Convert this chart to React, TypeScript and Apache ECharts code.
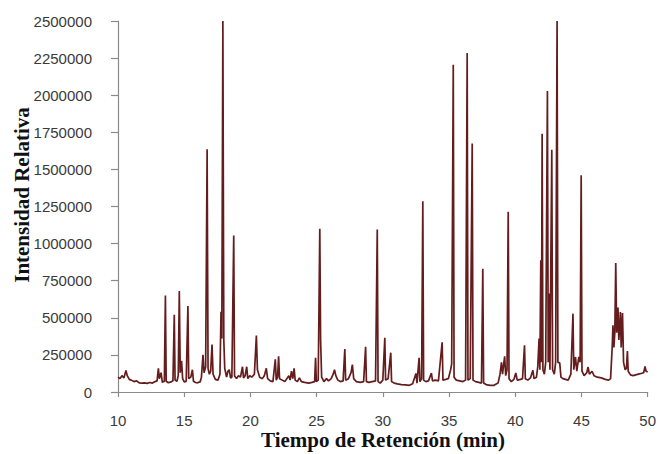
import React, { useEffect, useRef } from "react";
import * as echarts from "echarts";

// Retention time (min)
const retentionTime: number[] = [
  10.0, 10.15, 10.3, 10.45, 10.6, 10.7, 10.85, 11.0, 11.2, 11.4, 11.6, 11.8, 12.0, 12.2, 12.4, 12.6, 12.8, 12.95,
  13.05, 13.12, 13.25, 13.35, 13.5, 13.58, 13.64, 13.8, 14.0, 14.15, 14.25, 14.31, 14.45, 14.55, 14.63, 14.7,
  14.8, 14.88, 15.0, 15.15, 15.28, 15.34, 15.5, 15.62, 15.7, 15.85, 16.0, 16.2, 16.3, 16.42, 16.5, 16.62,
  16.73, 16.8, 16.9, 17.0, 17.1, 17.18, 17.35, 17.55, 17.7, 17.78, 17.84, 17.92, 17.99, 18.06, 18.2, 18.3,
  18.4, 18.5, 18.6, 18.74, 18.8, 18.95, 19.1, 19.25, 19.4, 19.48, 19.6, 19.72, 19.8, 19.95, 20.1, 20.3,
  20.45, 20.53, 20.7, 20.9, 21.05, 21.2, 21.3, 21.5, 21.7, 21.88, 21.95, 22.05, 22.13, 22.2, 22.4, 22.6,
  22.9, 23.0, 23.1, 23.2, 23.3, 23.38, 23.55, 23.7, 23.85, 24.1, 24.4, 24.65, 24.85, 24.92, 24.98, 25.12,
  25.24, 25.3, 25.38, 25.55, 25.75, 25.9, 26.1, 26.25, 26.35, 26.45, 26.6, 26.8, 27.0, 27.13, 27.19, 27.4,
  27.6, 27.7, 27.8, 28.0, 28.3, 28.55, 28.7, 28.76, 28.95, 29.2, 29.45, 29.58, 29.64, 29.8, 30.0, 30.15,
  30.21, 30.4, 30.6, 30.66, 30.85, 31.1, 31.4, 31.7, 32.0, 32.25, 32.5, 32.58, 32.74, 32.8, 32.93, 33.02,
  33.08, 33.25, 33.45, 33.67, 33.75, 33.95, 34.2, 34.48, 34.54, 34.75, 34.95, 35.12, 35.2, 35.32, 35.38, 35.55,
  35.8, 36.05, 36.25, 36.37, 36.43, 36.6, 36.75, 36.81, 37.0, 37.25, 37.45, 37.55, 37.61, 37.8, 38.1, 38.4,
  38.7, 38.85, 38.96, 39.04, 39.2, 39.28, 39.38, 39.47, 39.53, 39.7, 39.9, 40.04, 40.15, 40.4, 40.55, 40.7,
  40.76, 40.95, 41.15, 41.33, 41.42, 41.6, 41.7, 41.8, 41.86, 41.93, 41.98, 42.03, 42.09, 42.2, 42.3, 42.43,
  42.49, 42.55, 42.62, 42.76, 42.82, 42.95, 43.05, 43.16, 43.22, 43.36, 43.45, 43.6, 43.8, 44.0, 44.2, 44.36,
  44.42, 44.55, 44.65, 44.8, 44.9, 44.98, 45.04, 45.2, 45.4, 45.5, 45.6, 45.8, 45.95, 46.2, 46.5, 46.8,
  47.05, 47.2, 47.32, 47.38, 47.45, 47.52, 47.59, 47.66, 47.72, 47.76, 47.82, 47.9, 47.94, 48.0, 48.06, 48.1,
  48.18, 48.3, 48.4, 48.47, 48.53, 48.7, 48.9, 49.1, 49.3, 49.5, 49.7, 49.8, 49.88, 50.0,
];

// Relative intensity
const intensity: number[] = [
  100000, 90000, 110000, 95000, 145000, 110000, 85000, 80000, 70000, 75000, 62000, 60000, 62000, 58000, 64000, 60000, 70000, 75000,
  160000, 90000, 130000, 65000, 72000, 650000, 72000, 62000, 68000, 75000, 520000, 80000, 72000, 110000, 680000, 130000,
  210000, 90000, 68000, 72000, 580000, 90000, 100000, 150000, 72000, 64000, 62000, 68000, 100000, 250000, 130000, 170000,
  1635000, 160000, 120000, 140000, 320000, 120000, 85000, 80000, 120000, 540000, 360000, 2500000, 350000, 160000, 100000, 140000,
  150000, 95000, 100000, 1055000, 110000, 90000, 110000, 100000, 170000, 95000, 110000, 170000, 90000, 110000, 100000, 120000,
  380000, 150000, 100000, 90000, 110000, 160000, 90000, 75000, 70000, 220000, 80000, 100000, 240000, 90000, 80000, 70000,
  110000, 80000, 140000, 90000, 160000, 80000, 70000, 95000, 70000, 65000, 60000, 65000, 70000, 230000, 70000, 80000,
  1100000, 350000, 100000, 70000, 90000, 75000, 90000, 120000, 150000, 110000, 80000, 70000, 75000, 290000, 80000, 90000,
  130000, 185000, 90000, 70000, 65000, 70000, 305000, 70000, 65000, 70000, 75000, 1095000, 70000, 60000, 80000, 365000,
  80000, 90000, 265000, 70000, 60000, 55000, 50000, 48000, 45000, 55000, 125000, 60000, 230000, 70000, 90000, 1285000,
  80000, 70000, 75000, 128000, 75000, 80000, 75000, 335000, 80000, 85000, 90000, 150000, 190000, 2205000, 100000, 80000,
  75000, 70000, 80000, 2285000, 80000, 90000, 1675000, 80000, 70000, 65000, 60000, 830000, 60000, 50000, 45000, 45000,
  60000, 120000, 200000, 120000, 240000, 110000, 150000, 1215000, 90000, 70000, 85000, 128000, 80000, 85000, 90000, 315000,
  90000, 80000, 95000, 146000, 90000, 100000, 170000, 360000, 150000, 887000, 200000, 1740000, 150000, 120000, 200000, 2028000,
  200000, 663000, 150000, 1633000, 150000, 120000, 200000, 2500000, 200000, 196000, 100000, 90000, 85000, 80000, 120000, 528000,
  150000, 236000, 140000, 236000, 200000, 1460000, 140000, 110000, 130000, 168000, 120000, 140000, 110000, 100000, 95000, 85000,
  80000, 90000, 300000, 450000, 300000, 400000, 869000, 400000, 480000, 569000, 350000, 450000, 539000, 300000, 450000, 532000,
  200000, 150000, 160000, 276000, 140000, 115000, 110000, 115000, 120000, 125000, 130000, 173000, 140000, 135000,
];

const xTitle = "Tiempo de Retención (min)";
const yTitle = "Intensidad Relativa";

export default function App() {
  const ref = useRef<HTMLDivElement>(null);
  useEffect(() => {
    document.body.style.margin = "0";
    if (!ref.current) return;
    const chart = echarts.init(ref.current, null, { renderer: "svg" });
    const data = retentionTime.map((t, i) => [t, intensity[i]]);
    const axisColor = "#8a8a8a";
    const labelStyle = {
      color: "#3a3a3a",
      fontSize: 15,
      lineHeight: 15,
      fontFamily: "Liberation Sans, Arial, sans-serif",
    };
    chart.setOption({
      animation: false,
      backgroundColor: "#ffffff",
      grid: { left: 118, right: 11, top: 21, bottom: 62, containLabel: false },
      xAxis: {
        type: "value",
        min: 10,
        max: 50,
        interval: 5,
        axisLine: { show: true, onZero: false, lineStyle: { color: axisColor, width: 1.2 } },
        axisTick: { show: true, inside: false, length: 5, lineStyle: { color: axisColor, width: 1.2 } },
        axisLabel: { ...labelStyle, margin: 21, formatter: (v: number) => String(v) },
        splitLine: { show: false },
      },
      yAxis: {
        type: "value",
        min: 0,
        max: 2500000,
        interval: 250000,
        axisLine: { show: true, lineStyle: { color: axisColor, width: 1.2 } },
        axisTick: { show: true, inside: false, length: 7, lineStyle: { color: axisColor, width: 1.2 } },
        axisLabel: { ...labelStyle, margin: 26, formatter: (v: number) => String(v) },
        splitLine: { show: false },
      },
      series: [
        {
          type: "line",
          data,
          showSymbol: false,
          symbol: "none",
          lineStyle: { color: "#641c1c", width: 1.7 },
          itemStyle: { color: "#641c1c" },
        },
      ],
      graphic: [
        {
          type: "text",
          x: 383,
          y: 440,
          style: {
            text: xTitle,
            fill: "#111111",
            font: "bold 21px 'Liberation Serif', 'Times New Roman', serif",
            align: "center",
            verticalAlign: "middle",
          },
        },
        {
          type: "text",
          x: 22,
          y: 195,
          rotation: Math.PI / 2,
          style: {
            text: yTitle,
            fill: "#111111",
            font: "bold 21px 'Liberation Serif', 'Times New Roman', serif",
            align: "center",
            verticalAlign: "middle",
          },
        },
      ],
    });
    return () => chart.dispose();
  }, []);
  return <div ref={ref} style={{ width: 659, height: 454 }} />;
}
